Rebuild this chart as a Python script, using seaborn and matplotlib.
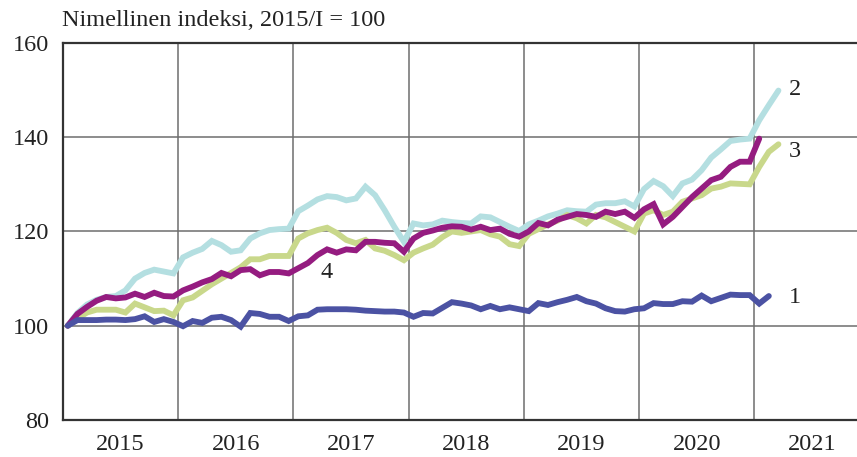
import numpy as np
import pandas as pd
import matplotlib
matplotlib.use("Agg")
import matplotlib.pyplot as plt
import seaborn as sns

# Monthly index values, Jan 2015 onwards (2015/I = 100)
s1 = [100, 101.2, 101.2, 101.2, 101.3, 101.3, 101.2, 101.4, 102.0, 100.8, 101.4, 100.8,
      99.9, 101.0, 100.6, 101.7, 101.9, 101.2, 99.8, 102.7, 102.5, 101.9, 101.9, 101.0,
      102.0, 102.2, 103.4, 103.5, 103.5, 103.5, 103.4, 103.2, 103.1, 103.0, 103.0, 102.8,
      101.9, 102.7, 102.6, 103.8, 105.0, 104.7, 104.3, 103.5, 104.2, 103.5, 103.9, 103.5,
      103.1, 104.8, 104.4, 105.0, 105.5, 106.1, 105.2, 104.7, 103.7, 103.1, 103.0, 103.5,
      103.7, 104.8, 104.6, 104.6, 105.2, 105.1, 106.4, 105.2, 105.9, 106.6, 106.5, 106.5,
      104.7, 106.3]
s2 = [100, 102.7, 104.5, 105.5, 106.1, 106.3, 107.5, 110.0, 111.2, 111.9, 111.5, 111.1,
      114.5, 115.5, 116.3, 118.0, 117.1, 115.7, 116.0, 118.5, 119.6, 120.3, 120.5, 120.6,
      124.3, 125.5, 126.8, 127.5, 127.3, 126.6, 127.0, 129.5, 127.7, 124.5, 121.0, 117.8,
      121.7, 121.3, 121.5, 122.3, 122.0, 121.8, 121.7, 123.2, 123.0, 122.0, 121.0, 120.1,
      121.5, 122.3, 123.2, 123.8, 124.5, 124.3, 124.2, 125.7, 126.0, 126.0, 126.4, 125.3,
      129.0, 130.7, 129.6, 127.5, 130.2, 131.0, 133.0, 135.7, 137.4, 139.2, 139.5, 139.7,
      143.6, 146.8, 149.9]
s3 = [100, 101.5, 102.8, 103.4, 103.4, 103.4, 102.8, 104.7, 103.9, 103.1, 103.2, 102.2,
      105.4, 106.0, 107.4, 108.8, 110.0, 111.2, 112.4, 114.1, 114.1, 114.8, 114.8, 114.8,
      118.5, 119.6, 120.3, 120.8, 119.7, 118.2, 117.5, 118.2, 116.4, 115.9, 115.0, 113.9,
      115.5, 116.4, 117.2, 118.8, 120.0, 119.7, 120.0, 120.3, 119.4, 118.9, 117.3, 116.9,
      119.5, 120.5, 121.5, 122.3, 123.5, 122.8, 121.7, 123.5, 123.0, 122.0, 121.0, 120.0,
      123.8, 124.5, 123.5, 124.2, 126.3, 127.0, 127.7, 129.1, 129.5, 130.2, 130.1, 130.0,
      133.7, 136.9, 138.5]
s4 = [100, 102.5, 104.0, 105.3, 106.1, 105.8, 106.0, 106.8, 106.1, 107.0, 106.3, 106.2,
      107.5, 108.3, 109.2, 109.9, 111.2, 110.5, 111.8, 112.0, 110.7, 111.4, 111.4, 111.1,
      112.2, 113.3, 115.0, 116.2, 115.5, 116.2, 116.0, 117.8, 117.8, 117.6, 117.5, 115.7,
      118.5, 119.7, 120.2, 120.8, 121.1, 121.0, 120.4, 121.0, 120.3, 120.6, 119.5, 118.9,
      120.0, 121.8, 121.3, 122.5, 123.1, 123.7, 123.5, 123.1, 124.2, 123.7, 124.2, 122.9,
      124.7, 125.8, 121.5, 123.1, 125.2, 127.3, 129.1, 130.9, 131.6, 133.7, 134.8, 134.8,
      139.7]

series_names = ["1", "2", "3", "4"]
series_vals = {"1": s1, "2": s2, "3": s3, "4": s4}
colors = {"1": "#4b52a3", "2": "#b4dfe1", "3": "#c9d88b", "4": "#951c80"}
years = [2015, 2016, 2017, 2018, 2019, 2020, 2021]
yticks = [80, 100, 120, 140, 160]
title = "Nimellinen indeksi, 2015/I = 100"

rows = []
for name in series_names:
    vals = series_vals[name]
    for m, v in enumerate(vals):
        rows.append({"t": 2015 + (m + 0.5) / 12.0, "value": v, "series": name})
df = pd.DataFrame(rows)

sns.set_theme(style="white")
plt.rcParams["font.family"] = ["Liberation Serif", "DejaVu Serif"]

FS = 17.5
fig = plt.figure(figsize=(8.57, 4.57), dpi=100)
ax = fig.add_axes([0.0735, 0.081, 0.9265, 0.825])

draw_order = ["2", "3", "4", "1"]
for i, name in enumerate(draw_order):
    sub = df[df["series"] == name]
    sns.lineplot(data=sub, x="t", y="value", ax=ax, color=colors[name],
                 linewidth=4.2, solid_joinstyle="miter", solid_capstyle="round",
                 legend=False, zorder=3 + i)

ax.set_xlim(2015.0, 2021.89)
ax.set_ylim(80, 160)

for y in [100, 120, 140]:
    ax.axhline(y, color="#6e6e6e", linewidth=1.1, zorder=1)
for yr in years[1:]:
    ax.axvline(yr, color="#6e6e6e", linewidth=1.1, zorder=1)

ax.set_yticks(yticks)
ax.set_yticklabels([str(v) for v in yticks], fontsize=FS, color="#222222")
ax.set_xticks([y + 0.5 for y in years])
ax.set_xticklabels([str(y) for y in years], fontsize=FS, color="#222222")
ax.tick_params(axis="both", length=0)
ax.tick_params(axis="y", pad=10)
ax.tick_params(axis="x", pad=10)
ax.set_xlabel("")
ax.set_ylabel("")

for side in ["left", "top", "bottom"]:
    ax.spines[side].set_visible(True)
    ax.spines[side].set_color("#333333")
    ax.spines[side].set_linewidth(1.6)
ax.spines["right"].set_visible(False)

# series labels
lx = 2015 + (790 - 64) / 115.2
ax.text(lx, 106.0, "1", fontsize=FS, color="#222222", va="center", ha="left")
ax.text(lx, 150.2, "2", fontsize=FS, color="#222222", va="center", ha="left")
ax.text(lx, 137.0, "3", fontsize=FS, color="#222222", va="center", ha="left")
ax.text(2015 + (327 - 64) / 115.2, 111.4, "4", fontsize=FS, color="#222222", va="center", ha="center")

fig.text(62 / 857, 1 - 21 / 457, title, fontsize=FS, color="#222222", ha="left", va="center")

fig.savefig("out.png", dpi=100, facecolor="white")
